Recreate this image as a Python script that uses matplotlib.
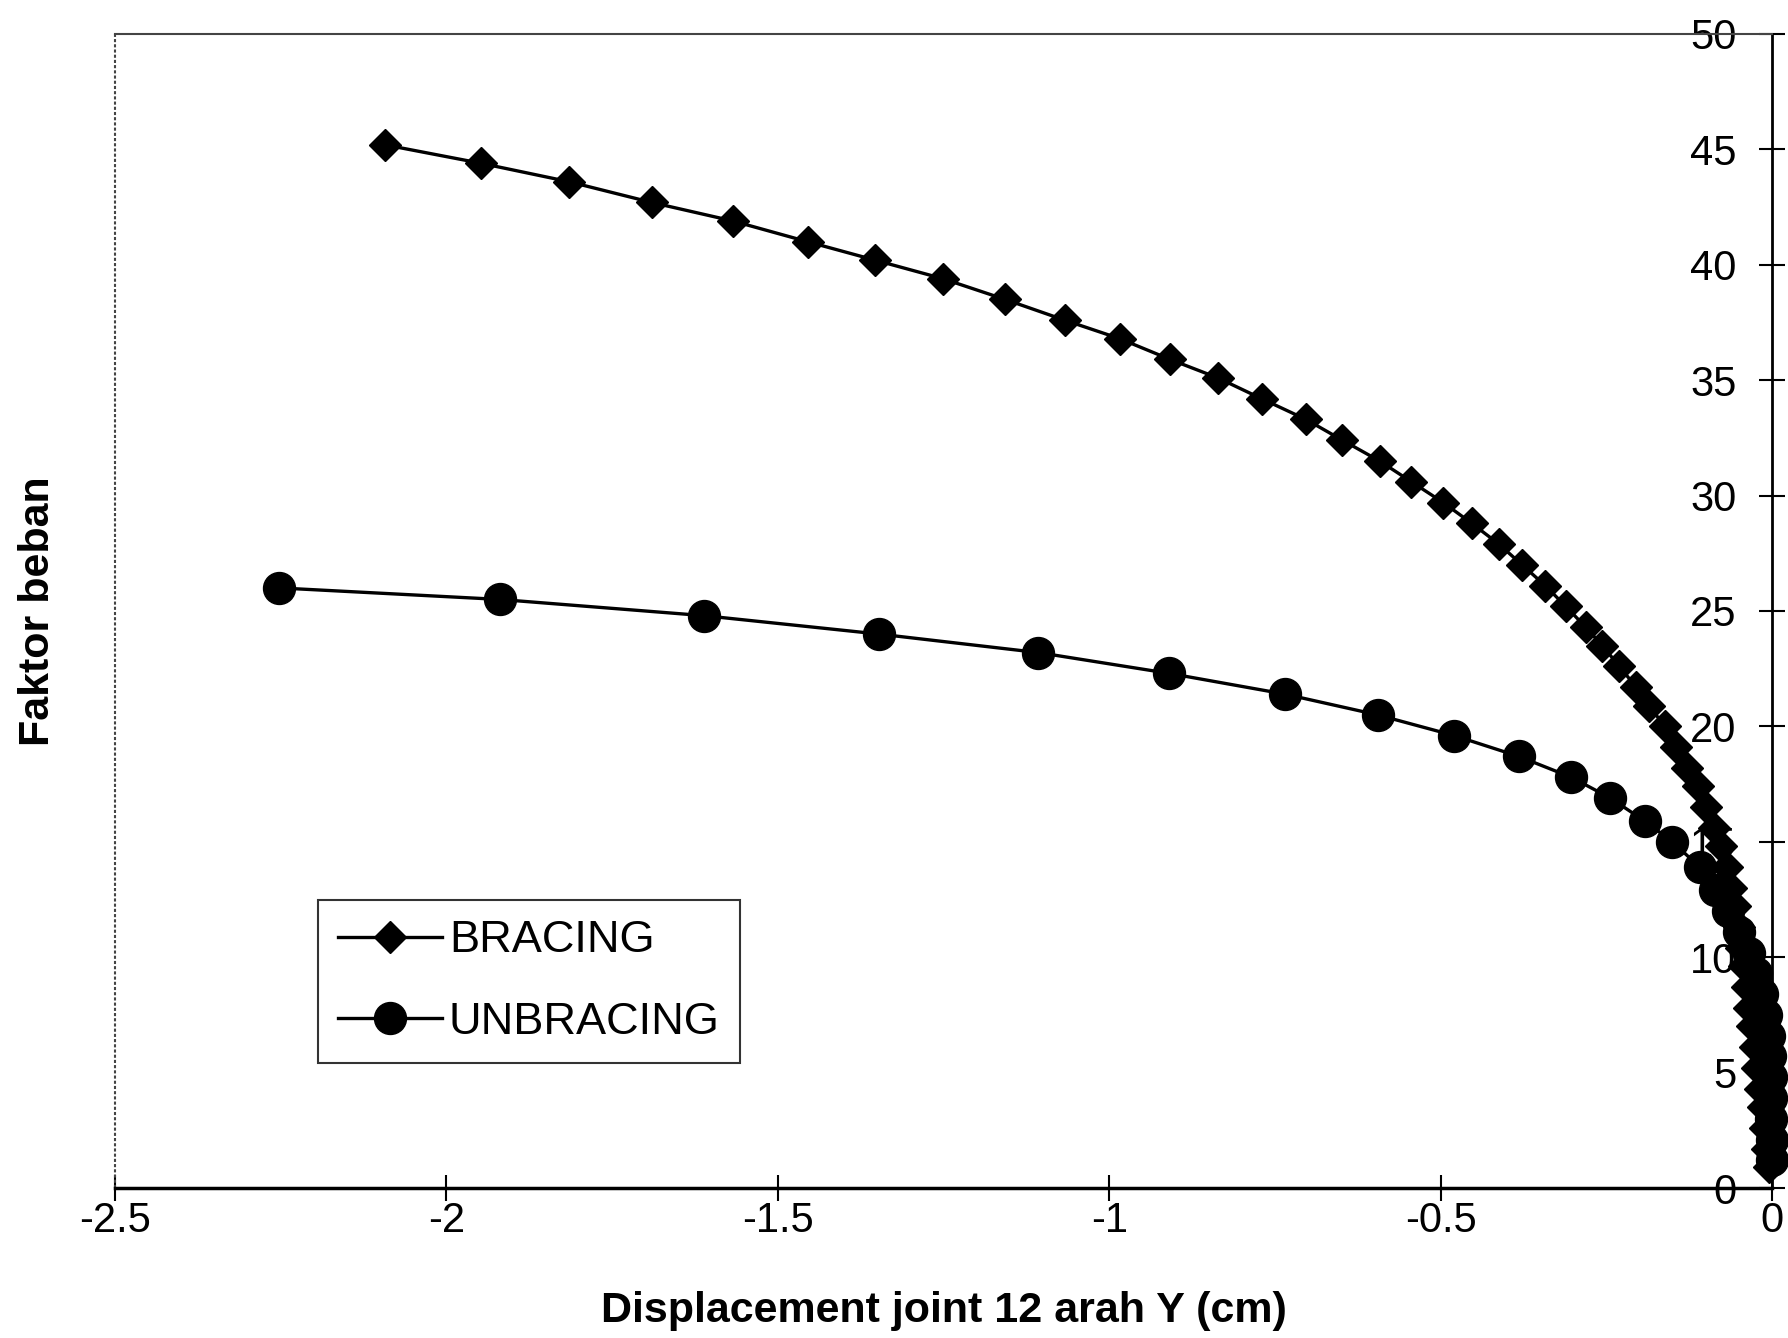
import matplotlib
matplotlib.use('Agg')
import matplotlib.pyplot as plt

plt.rcParams['font.family'] = ['Liberation Sans', 'DejaVu Sans']

# load factor vs displacement of joint 12 (Y direction)
bracing_x = [-2.093, -1.948, -1.815, -1.690, -1.568, -1.455, -1.353, -1.251, -1.157, -1.067,
             -0.984, -0.908, -0.836, -0.770, -0.703, -0.648, -0.592, -0.544, -0.496, -0.453,
             -0.412, -0.377, -0.342, -0.311, -0.281, -0.256, -0.230, -0.205, -0.185, -0.162,
             -0.145, -0.128, -0.112, -0.099, -0.088, -0.077, -0.068, -0.061, -0.055, -0.050,
             -0.046, -0.042, -0.038, -0.034, -0.030, -0.026, -0.022, -0.018, -0.014, -0.010,
             -0.007, -0.004]
bracing_y = [45.2, 44.4, 43.6, 42.7, 41.9, 41.0, 40.2, 39.4, 38.5, 37.6,
             36.8, 35.9, 35.1, 34.2, 33.3, 32.4, 31.5, 30.6, 29.7, 28.8,
             27.9, 27.0, 26.1, 25.2, 24.3, 23.5, 22.6, 21.7, 20.9, 20.0,
             19.1, 18.2, 17.4, 16.5, 15.6, 14.8, 13.9, 13.0, 12.2, 11.3,
             10.4, 9.6, 8.7, 7.8, 7.0, 6.1, 5.2, 4.3, 3.5, 2.6,
             1.7, 0.9]

unbracing_x = [-2.252, -1.919, -1.612, -1.347, -1.107, -0.910, -0.735, -0.595, -0.479, -0.382,
               -0.303, -0.244, -0.192, -0.150, -0.109, -0.086, -0.066, -0.049, -0.035, -0.024,
               -0.015, -0.009, -0.005, -0.003, -0.002, -0.001, -0.001, 0.0, 0.0]
unbracing_y = [26.0, 25.5, 24.8, 24.0, 23.2, 22.3, 21.4, 20.5, 19.6, 18.7,
               17.8, 16.9, 15.9, 15.0, 13.9, 12.9, 12.0, 11.1, 10.2, 9.3,
               8.4, 7.5, 6.6, 5.7, 4.8, 3.9, 3.0, 2.1, 1.2]

x_ticks = [-2.5, -2, -1.5, -1, -0.5, 0]
x_tick_labels = ['-2.5', '-2', '-1.5', '-1', '-0.5', '0']
y_ticks = [0, 5, 10, 15, 20, 25, 30, 35, 40, 45, 50]

fig = plt.figure(figsize=(17.88, 13.38), dpi=100)
ax = fig.add_axes([0.0643, 0.1121, 0.9267, 0.8625])

ax.plot(bracing_x, bracing_y, color='black', lw=2.4, marker='D', ms=16,
        label='BRACING', clip_on=False, zorder=3)
ax.plot(unbracing_x, unbracing_y, color='black', lw=2.4, marker='o', ms=23,
        label='UNBRACING', clip_on=False, zorder=3)

ax.set_xlim(-2.5, 0)
ax.set_ylim(0, 50)
ax.set_xticks(x_ticks)
ax.set_xticklabels(x_tick_labels)
ax.set_yticks(y_ticks)

# y axis sits at x = 0 (right edge), labels on its left
ax.spines['left'].set_position(('data', 0))
ax.spines['left'].set_linewidth(2)
ax.spines['right'].set_visible(False)
ax.spines['bottom'].set_linewidth(2.5)
ax.spines['top'].set(color='#444444', linestyle=(0, (1.5, 1)), linewidth=1.5)
ax.plot([0, 0], [0, 1], transform=ax.transAxes, color='#444444',
        linestyle=(0, (1.5, 1)), lw=1.5, clip_on=False)

ax.tick_params(axis='both', direction='inout', length=19, width=1.5, labelsize=30)
ax.tick_params(axis='x', pad=0)
ax.tick_params(axis='y', pad=16)

fig.text(0.528, 0.020, 'Displacement joint 12 arah Y (cm)', fontsize=31,
         fontweight='bold', ha='center', va='center')
fig.text(0.021, 0.543, 'Faktor beban', fontsize=31, fontweight='bold',
         rotation=90, ha='center', va='center')

leg = ax.legend(loc='lower left', bbox_to_anchor=(0.1225, 0.108), borderaxespad=0,
                fontsize=32.5, fancybox=False, handlelength=2.3, handletextpad=0.15,
                labelspacing=0.9, borderpad=0.45, frameon=True)
leg.get_frame().set_edgecolor('black')
leg.get_frame().set_linewidth(1.5)

fig.savefig('out.png', dpi=100)
